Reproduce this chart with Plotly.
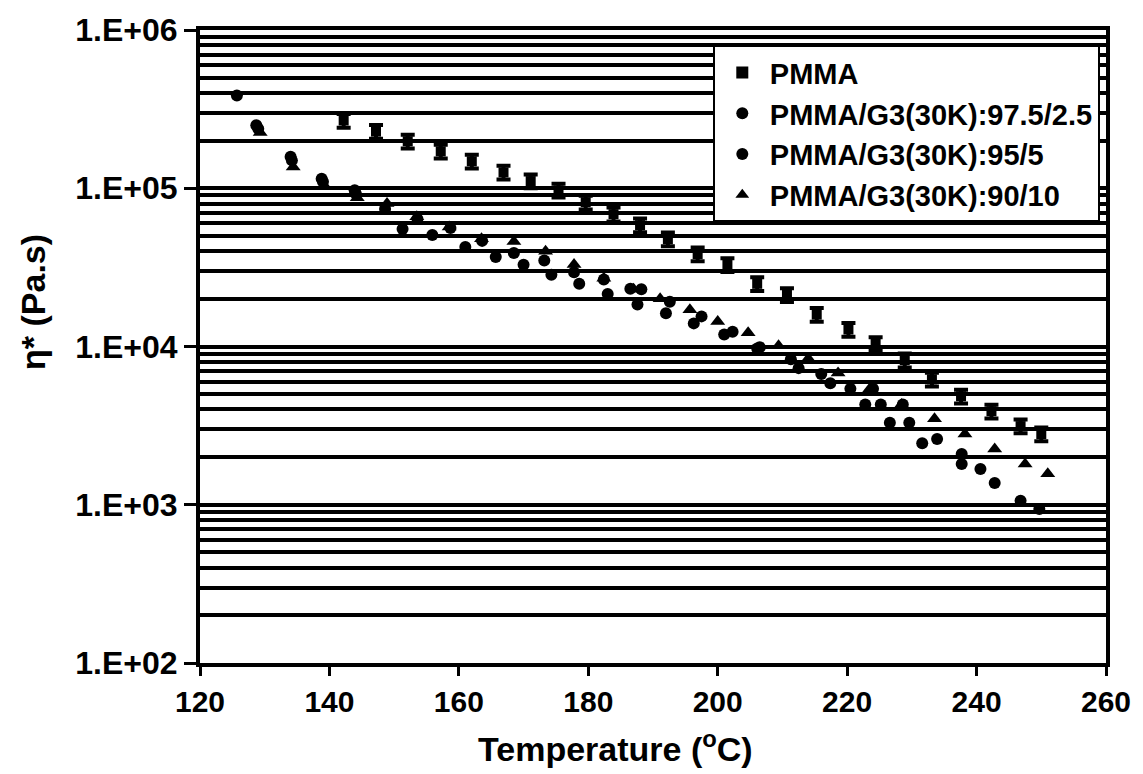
import plotly.graph_objects as go

# PMMA (square with error bars)
pmma_T = [142.2, 147.2, 152.1, 157.2, 162.0, 166.9, 171.1, 175.4, 179.6, 183.9,
          188.0, 192.3, 196.9, 201.5, 206.1, 210.7, 215.3, 220.2, 224.4, 228.9,
          233.1, 237.6, 242.3, 246.8, 250.0]
pmma_eta = [268000, 228000, 198000, 171000, 148000, 126000, 111000, 97000, 81600, 68600,
            58500, 47700, 38400, 32800, 24900, 21200, 15900, 12800, 10400, 8200,
            6200, 4850, 3900, 3140, 2800]

# PMMA/G3(30K):97.5/2.5
g25_T = [125.7, 128.7, 134.0, 138.8, 143.9, 148.6, 153.6, 158.7, 163.6, 168.5,
         173.2, 177.8, 182.4, 186.5, 188.2, 192.6, 197.5, 202.3, 206.5, 211.3,
         216.0, 220.5, 224.0, 228.6, 233.9, 237.7, 240.6, 246.8]
g25_eta = [385000, 250000, 158000, 115000, 97000, 74000, 64000, 56000, 46500, 39000,
           35000, 29500, 26500, 23200, 23000, 19200, 15500, 12400, 9900, 8300,
           6700, 5400, 5400, 4300, 2600, 2090, 1680, 1060]

# PMMA/G3(30K):95/5
g5_T = [129.0, 134.2, 139.0, 144.1, 151.3, 155.9, 161.0, 165.7, 170.0, 174.3,
        178.6, 183.0, 187.6, 192.0, 196.3, 201.0, 206.1, 212.5, 217.4, 222.8,
        225.2, 226.6, 229.6, 231.6, 237.7, 242.8, 249.7]
g5_eta = [238000, 150000, 110000, 92000, 55200, 50600, 42600, 36800, 32800, 28400,
          24900, 21500, 18400, 16200, 14000, 11900, 9700, 7300, 5850, 4300,
          4300, 3300, 3300, 2450, 1810, 1370, 940]

# PMMA/G3(30K):90/10
g10_T = [129.3, 134.4, 139.2, 144.3, 148.9, 153.5, 158.5, 163.5, 168.5, 173.4,
         177.8, 182.4, 187.0, 191.1, 195.7, 200.0, 204.7, 209.4, 214.0, 218.6,
         223.5, 228.4, 233.5, 238.2, 242.8, 247.5, 251.0]
g10_eta = [225000, 136000, 104000, 87000, 80000, 66000, 57000, 48000, 46000, 40000,
           33000, 27000, 23000, 20000, 17100, 14400, 12200, 10100, 8400, 6800,
           5400, 4300, 3500, 2800, 2250, 1810, 1570]

x_ticks = [120, 140, 160, 180, 200, 220, 240, 260]
y_ticks = [1e2, 1e3, 1e4, 1e5, 1e6]
y_ticktext = ["1.E+02", "1.E+03", "1.E+04", "1.E+05", "1.E+06"]
y_minor = [k * 10 ** e for e in range(2, 6) for k in range(2, 10)]

BLACK = "black"
FONT = "Liberation Sans"

fig = go.Figure()

fig.add_trace(go.Scatter(
    x=pmma_T, y=pmma_eta, mode="markers", name="PMMA",
    marker=dict(symbol="square", size=10, color=BLACK),
    error_y=dict(type="percent", value=10, color=BLACK, thickness=4, width=7),
))
fig.add_trace(go.Scatter(
    x=g25_T, y=g25_eta, mode="markers", name="PMMA/G3(30K):97.5/2.5",
    marker=dict(symbol="circle", size=12, color=BLACK),
))
fig.add_trace(go.Scatter(
    x=g5_T, y=g5_eta, mode="markers", name="PMMA/G3(30K):95/5",
    marker=dict(symbol="circle", size=12, color=BLACK),
))
fig.add_trace(go.Scatter(
    x=g10_T, y=g10_eta, mode="markers", name="PMMA/G3(30K):90/10",
    marker=dict(symbol="triangle-up", size=13, color=BLACK),
))

fig.update_layout(
    width=1143, height=774,
    margin=dict(l=200, r=28, t=27, b=111),
    paper_bgcolor="white", plot_bgcolor="white",
    font=dict(family=FONT, color=BLACK, weight="bold"),
    showlegend=True,
    legend=dict(
        x=0.566, y=0.976, xanchor="left", yanchor="top",
        bgcolor="white", bordercolor=BLACK, borderwidth=2,
        font=dict(family=FONT, size=29, color=BLACK, weight="bold"),
        itemsizing="constant", itemwidth=45,
    ),
    annotations=[
        dict(text="η* (Pa.s)", xref="paper", yref="paper", x=-0.185, y=0.571,
             xanchor="center", yanchor="middle", textangle=-90, showarrow=False,
             font=dict(family=FONT, size=34, color=BLACK, weight="bold")),
        dict(text="Temperature (<sup>o</sup>C)", xref="paper", yref="paper",
             x=0.459, y=-0.132, xanchor="center", yanchor="middle", showarrow=False,
             font=dict(family=FONT, size=34, color=BLACK, weight="bold")),
    ],
)

fig.update_xaxes(
    range=[120, 260], tickvals=x_ticks,
    showgrid=False, zeroline=False,
    showline=True, linecolor=BLACK, linewidth=4, mirror=True,
    ticks="outside", ticklen=9, tickwidth=3, tickcolor=BLACK,
    tickfont=dict(family=FONT, size=30, color=BLACK, weight="bold"),
)

fig.update_yaxes(
    type="log", range=[2, 6],
    tickvals=y_ticks, ticktext=y_ticktext,
    showgrid=True, gridcolor=BLACK, gridwidth=3.5,
    zeroline=False,
    showline=True, linecolor=BLACK, linewidth=4, mirror=True,
    ticks="outside", ticklen=12, tickwidth=3, tickcolor=BLACK,
    tickfont=dict(family=FONT, size=32, color=BLACK, weight="bold"),
    minor=dict(tickvals=y_minor, showgrid=True, gridcolor=BLACK, gridwidth=3.5, ticks=""),
)

fig.write_html("out.html")
